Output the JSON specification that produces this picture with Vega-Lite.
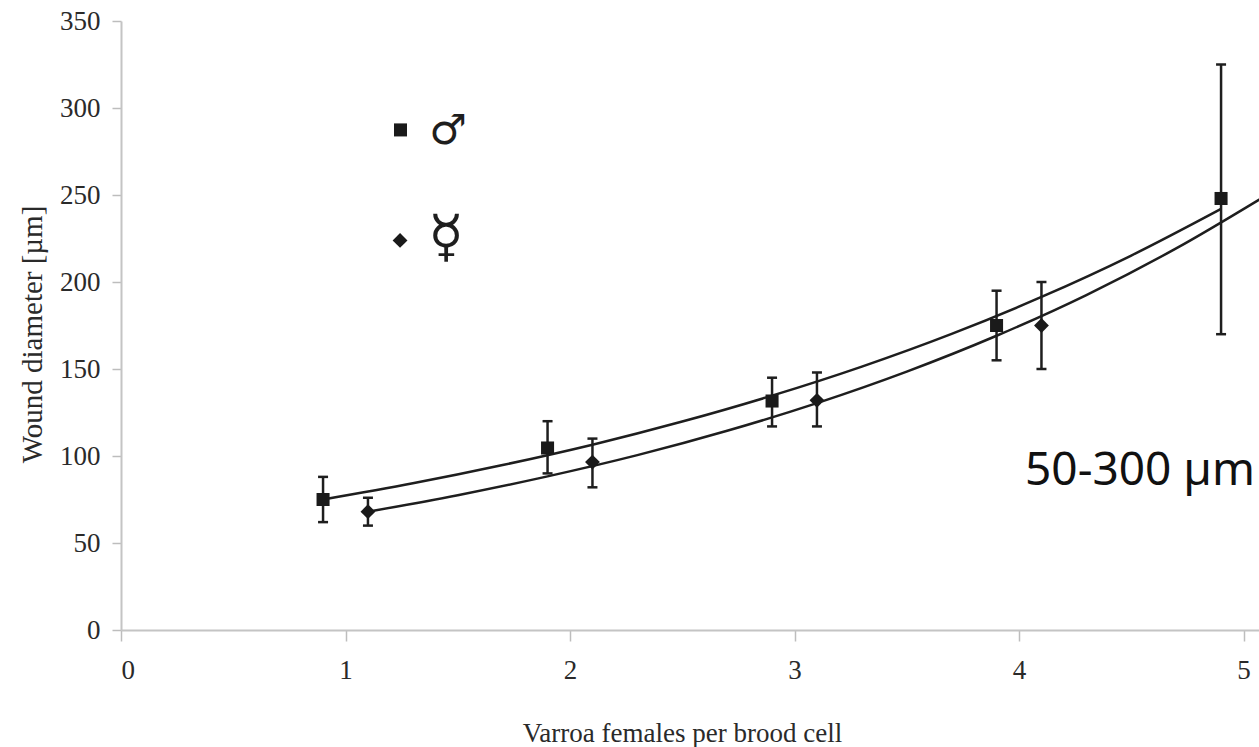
{
  "$schema": "https://vega.github.io/schema/vega-lite/v6.json",
  "width": 1138,
  "height": 609,
  "autosize": {"type": "none"},
  "padding": {"left": 121, "top": 21, "right": 0, "bottom": 117},
  "background": "white",
  "config": {
    "view": {"stroke": null},
    "axis": {
      "grid": false,
      "domainColor": "#c4c4c4",
      "domainWidth": 2,
      "tickColor": "#bdbdbd",
      "tickWidth": 1.5,
      "labelFont": "Liberation Serif",
      "labelFontSize": 27,
      "labelColor": "#2a2a2a",
      "titleFont": "Liberation Serif",
      "titleFontWeight": "normal",
      "titleColor": "#2a2a2a"
    }
  },
  "datasets": {
    "points": [
      {"sex": "male", "x": 0.9, "y": 75, "lo": 62, "hi": 88},
      {"sex": "male", "x": 1.9, "y": 104.6, "lo": 90, "hi": 120},
      {"sex": "male", "x": 2.9, "y": 131.6, "lo": 117, "hi": 145},
      {"sex": "male", "x": 3.9, "y": 175, "lo": 155, "hi": 195},
      {"sex": "male", "x": 4.9, "y": 248, "lo": 170, "hi": 325},
      {"sex": "female", "x": 1.1, "y": 68, "lo": 60, "hi": 76},
      {"sex": "female", "x": 2.1, "y": 96.5, "lo": 82, "hi": 110},
      {"sex": "female", "x": 3.1, "y": 132, "lo": 117, "hi": 148},
      {"sex": "female", "x": 4.1, "y": 175, "lo": 150, "hi": 200}
    ],
    "curves": [
      {"sex": "male", "x": 0.9, "y": 75.0},
      {"sex": "male", "x": 1.3, "y": 84.3},
      {"sex": "male", "x": 1.7, "y": 94.8},
      {"sex": "male", "x": 2.1, "y": 106.5},
      {"sex": "male", "x": 2.5, "y": 119.8},
      {"sex": "male", "x": 2.9, "y": 134.7},
      {"sex": "male", "x": 3.3, "y": 151.4},
      {"sex": "male", "x": 3.7, "y": 170.2},
      {"sex": "male", "x": 4.1, "y": 191.4},
      {"sex": "male", "x": 4.5, "y": 215.2},
      {"sex": "male", "x": 4.9, "y": 242.0},
      {"sex": "female", "x": 1.1, "y": 68.0},
      {"sex": "female", "x": 1.5, "y": 77.5},
      {"sex": "female", "x": 1.9, "y": 88.3},
      {"sex": "female", "x": 2.3, "y": 100.5},
      {"sex": "female", "x": 2.7, "y": 114.5},
      {"sex": "female", "x": 3.1, "y": 130.4},
      {"sex": "female", "x": 3.5, "y": 148.5},
      {"sex": "female", "x": 3.9, "y": 169.1},
      {"sex": "female", "x": 4.3, "y": 192.5},
      {"sex": "female", "x": 4.7, "y": 219.3},
      {"sex": "female", "x": 5.1, "y": 249.7}
    ],
    "legend": [
      {"sex": "male", "x": 1.245, "y": 287.4, "gx": 1.457, "gy": 286.5, "glyph": "♂"},
      {"sex": "female", "x": 1.243, "y": 223.9, "gx": 1.448, "gy": 224.5, "glyph": "☿"}
    ],
    "note": [
      {"x": 4.539, "y": 83.3, "label": "50-300 µm"}
    ]
  },
  "layer": [
    {
      "data": {"name": "curves"},
      "mark": {"type": "line", "interpolate": "monotone", "strokeWidth": 2.5, "color": "#1e1e1e", "clip": true},
      "encoding": {
        "x": {
          "field": "x", "type": "quantitative",
          "scale": {"domain": [0, 5.069], "nice": false, "zero": false},
          "axis": {
            "values": [0, 1, 2, 3, 4, 5],
            "format": "d",
            "tickSize": 11,
            "labelPadding": 16,
            "title": "Varroa females per brood cell",
            "titleFontSize": 27,
            "titleBaseline": "alphabetic",
            "titleAnchor": "start",
            "titleAlign": "center",
            "titleX": 561,
            "titleY": 111
          }
        },
        "y": {
          "field": "y", "type": "quantitative",
          "scale": {"domain": [0, 350], "nice": false},
          "axis": {
            "values": [0, 50, 100, 150, 200, 250, 300, 350],
            "format": "d",
            "tickSize": 9,
            "labelPadding": 12,
            "title": "Wound diameter [µm]",
            "titleFontSize": 29,
            "titleBaseline": "alphabetic",
            "titleAlign": "center",
            "titleAngle": -90,
            "titleX": -80,
            "titleY": 313
          }
        },
        "detail": {"field": "sex"}
      }
    },
    {
      "data": {"name": "points"},
      "mark": {"type": "rule", "strokeWidth": 2.5, "color": "#1e1e1e"},
      "encoding": {
        "x": {"field": "x", "type": "quantitative"},
        "y": {"field": "lo", "type": "quantitative"},
        "y2": {"field": "hi"}
      }
    },
    {
      "data": {"name": "points"},
      "mark": {"type": "tick", "orient": "horizontal", "size": 10, "thickness": 2.5, "color": "#1e1e1e", "opacity": 1},
      "encoding": {
        "x": {"field": "x", "type": "quantitative"},
        "y": {"field": "lo", "type": "quantitative"}
      }
    },
    {
      "data": {"name": "points"},
      "mark": {"type": "tick", "orient": "horizontal", "size": 10, "thickness": 2.5, "color": "#1e1e1e", "opacity": 1},
      "encoding": {
        "x": {"field": "x", "type": "quantitative"},
        "y": {"field": "hi", "type": "quantitative"}
      }
    },
    {
      "data": {"name": "points"},
      "mark": {"type": "point", "filled": true, "opacity": 1, "color": "#1a1a1a"},
      "encoding": {
        "x": {"field": "x", "type": "quantitative"},
        "y": {"field": "y", "type": "quantitative"},
        "shape": {"field": "sex", "type": "nominal", "scale": {"domain": ["male", "female"], "range": ["square", "diamond"]}, "legend": null},
        "size": {"field": "sex", "type": "nominal", "scale": {"domain": ["male", "female"], "range": [170, 220]}, "legend": null}
      }
    },
    {
      "data": {"name": "legend"},
      "mark": {"type": "point", "filled": true, "opacity": 1, "color": "#1a1a1a"},
      "encoding": {
        "x": {"field": "x", "type": "quantitative"},
        "y": {"field": "y", "type": "quantitative"},
        "shape": {"field": "sex", "type": "nominal", "legend": null},
        "size": {"field": "sex", "type": "nominal", "legend": null}
      }
    },
    {
      "data": {"name": "legend"},
      "transform": [{"filter": "datum.sex === 'male'"}],
      "mark": {"type": "text", "font": "DejaVu Sans", "fontSize": 42, "color": "#1e1e1e", "align": "center", "baseline": "middle"},
      "encoding": {
        "x": {"field": "gx", "type": "quantitative"},
        "y": {"field": "gy", "type": "quantitative"},
        "text": {"field": "glyph"}
      }
    },
    {
      "data": {"name": "legend"},
      "transform": [{"filter": "datum.sex === 'female'"}],
      "mark": {"type": "text", "font": "DejaVu Sans", "fontSize": 58, "color": "#1e1e1e", "align": "center", "baseline": "middle"},
      "encoding": {
        "x": {"field": "gx", "type": "quantitative"},
        "y": {"field": "gy", "type": "quantitative"},
        "text": {"field": "glyph"}
      }
    },
    {
      "data": {"name": "note"},
      "mark": {"type": "text", "font": "Noto Sans", "fontSize": 46, "color": "#111111", "align": "center", "baseline": "alphabetic"},
      "encoding": {
        "x": {"field": "x", "type": "quantitative"},
        "y": {"field": "y", "type": "quantitative"},
        "text": {"field": "label"}
      }
    }
  ]
}
